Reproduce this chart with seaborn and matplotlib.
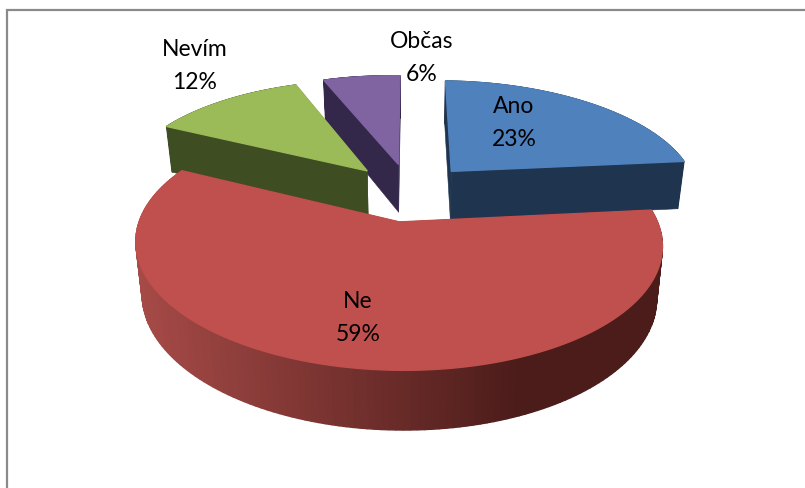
import numpy as np
import matplotlib
matplotlib.use("Agg")
import matplotlib.pyplot as plt
from matplotlib.patches import Polygon
import seaborn as sns

# Survey answers, in percent, clockwise from twelve o'clock
categories = ["Ano", "Ne", "Nevím", "Občas"]
shares = [23, 59, 12, 6]

top_colors = ["#4F81BD", "#C0504D", "#9BBB59", "#8064A2"]
wall_colors = ["#1F344F", "#4B1C1A", "#3F4D23", "#34284A"]

# Projection of the pie plane onto the canvas (pixel units)
CX, CY = 410.0, 193.0
RADIUS_X, RADIUS_Y = 248.0, 112.0
PERSPECTIVE = 0.168
ROLL = 0.0125
EXPLODE = 0.26
DEPTH = 49.4
DEPTH_POWER = 0.8
BOTTOM_SHRINK = 0.977

label_anchor = {"Ano": (514, 123), "Ne": (358, 318), "Nevím": (195, 66), "Občas": (422, 58)}

sns.set_theme(style="white")
palette = sns.color_palette(top_colors)
plt.rcParams["font.family"] = ["Lato", "DejaVu Sans"]


def project(x, y):
    """Map pie-plane coordinates to the canvas; returns top and bottom outlines."""
    s = 1.0 / (1.0 + PERSPECTIVE * y)
    sx = CX + RADIUS_X * x * s
    sy = CY - RADIUS_Y * y * s + ROLL * (sx - CX)
    bx = CX + (sx - CX) * BOTTOM_SHRINK
    by = sy + DEPTH * s ** DEPTH_POWER
    return np.column_stack([sx, sy]), np.column_stack([bx, by])


def wedge_outline(start, end, n=160):
    mid = (start + end) / 2
    off_x, off_y = EXPLODE * np.sin(mid), EXPLODE * np.cos(mid)
    theta = np.linspace(start, end, n)
    x = np.concatenate([[off_x], off_x + np.sin(theta)])
    y = np.concatenate([[off_y], off_y + np.cos(theta)])
    return project(x, y)


def shaded_wall(x_pos):
    """Lit on the left, falling to full shadow towards the right of the front wall."""
    t = np.clip((x_pos - 140.0) / (520.0 - 140.0), 0, 1)
    light = np.array(matplotlib.colors.to_rgb("#A64A47"))
    dark = np.array(matplotlib.colors.to_rgb(wall_colors[1]))
    return light + (dark - light) * t


fig = plt.figure(figsize=(8.05, 4.89), dpi=100, facecolor="white")
ax = fig.add_axes([0, 0, 1, 1])
ax.set_xlim(0, 805)
ax.set_ylim(489, 0)
ax.axis("off")

# Chart frame: only the top and left edges fall on the canvas
ax.plot([6.5, 6.5, 805], [489, 10.5, 10.5], color="#8A8A8A", lw=1.6, solid_joinstyle="miter", zorder=1)

edges = np.cumsum([0] + shares) / sum(shares) * 2 * np.pi
draw_order = [3, 2, 0, 1]  # rear slices first, the large front slice last

for rank, i in enumerate(draw_order):
    z = 2 + rank
    top, bottom = wedge_outline(edges[i], edges[i + 1])
    wall = wall_colors[i]

    # Radial cut faces
    for j in (1, -1):
        face = np.array([top[0], top[j], bottom[j], bottom[0]])
        ax.add_patch(Polygon(face, closed=True, fc=wall, ec=wall, lw=0.4, zorder=z))

    # Outer rim, built from narrow strips so the large slice can carry its gradient
    for k in range(1, len(top) - 1):
        strip = np.array([top[k], top[k + 1], bottom[k + 1], bottom[k]])
        color = shaded_wall(strip[:, 0].mean()) if categories[i] == "Ne" else wall
        ax.add_patch(Polygon(strip, closed=True, fc=color, ec=color, lw=1.0, zorder=z))

    # The top face's outline covers the rim strips' edges along the rear arc
    ax.add_patch(Polygon(top, closed=True, fc=palette[i], ec=palette[i], lw=1.0, zorder=z + 0.5))

for name, share in zip(categories, shares):
    x, y = label_anchor[name]
    ax.text(x, y, f"{name}\n{share}%", ha="center", va="center", fontsize=16.5,
            color="black", linespacing=1.75, zorder=20)

fig.savefig("out.png", dpi=100, facecolor="white")
